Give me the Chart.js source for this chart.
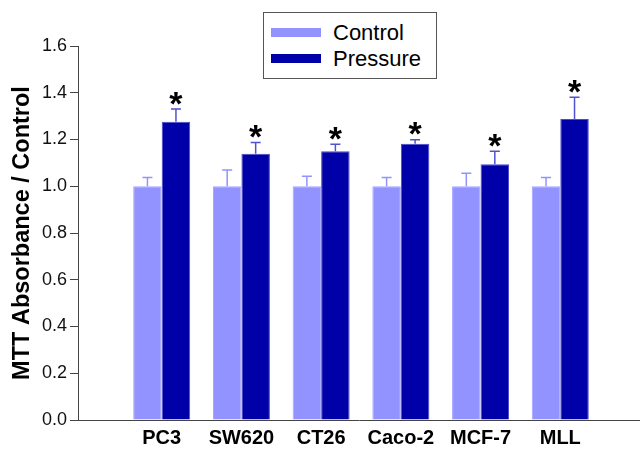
<!DOCTYPE html>
<html>
<head>
<meta charset="utf-8">
<script src="https://cdn.jsdelivr.net/npm/chart.js@4/dist/chart.umd.min.js"></script>
<style>
  html, body { margin: 0; padding: 0; background: #fff; }
  #wrap { position: relative; width: 640px; height: 453px; }
  #legend {
    position: absolute; left: 263px; top: 12px; width: 172px; height: 65px;
    border: 1px solid #555; background: #fff;
    font-family: Arial, "Liberation Sans", sans-serif; font-size: 22px; color: #000;
  }
  .legend-row { position: absolute; left: 0; height: 26px; line-height: 26px; }
  .legend-swatch { position: absolute; left: 7px; top: 8px; width: 50px; height: 9px; }
  .legend-label { position: absolute; left: 69px; top: 0; white-space: nowrap; }
</style>
</head>
<body>
<div id="wrap">
  <canvas id="chart" width="640" height="453"></canvas>
  <div id="legend"></div>
</div>
<script>
const cellLines = ['PC3', 'SW620', 'CT26', 'Caco-2', 'MCF-7', 'MLL'];
const controlValues = [1.0, 1.0, 1.0, 1.0, 1.0, 1.0];
const controlErrors = [0.037, 0.069, 0.043, 0.037, 0.056, 0.037];
const pressureValues = [1.276, 1.139, 1.150, 1.182, 1.094, 1.288];
const pressureErrors = [0.054, 0.048, 0.030, 0.017, 0.056, 0.093];
const significant = [true, true, true, true, true, true];
const yTicks = [0.0, 0.2, 0.4, 0.6, 0.8, 1.0, 1.2, 1.4, 1.6];

const CONTROL_COLOR = '#9393ff';
const PRESSURE_COLOR = '#0000a8';
const FONT = 'Arial, "Liberation Sans", sans-serif';

const series = [
  { label: 'Control', values: controlValues, errors: controlErrors, fill: CONTROL_COLOR, border: '#a3a3ff', errColor: '#9393ff' },
  { label: 'Pressure', values: pressureValues, errors: pressureErrors, fill: PRESSURE_COLOR, border: '#4a4acc', errColor: '#5252d0' },
];

// upward-only error bars with caps, plus significance stars over the pressure bars
const errorBarPlugin = {
  id: 'errorBars',
  afterDatasetsDraw(chart) {
    const { ctx, scales: { y } } = chart;
    ctx.save();
    series.forEach((s, di) => {
      const meta = chart.getDatasetMeta(di);
      meta.data.forEach((bar, i) => {
        const top = y.getPixelForValue(s.values[i] + s.errors[i]);
        const base = bar.y;
        ctx.strokeStyle = s.errColor;
        ctx.lineWidth = 1.5;
        ctx.beginPath();
        ctx.moveTo(bar.x, base);
        ctx.lineTo(bar.x, top);
        ctx.moveTo(bar.x - 5, top);
        ctx.lineTo(bar.x + 5, top);
        ctx.stroke();
        if (di === 1 && significant[i]) {
          ctx.fillStyle = '#000';
          ctx.font = 'bold 34px ' + FONT;
          ctx.textAlign = 'center';
          ctx.textBaseline = 'alphabetic';
          const m = ctx.measureText('*');
          const cy = top - 11;
          const mid = (m.actualBoundingBoxAscent - m.actualBoundingBoxDescent) / 2;
          ctx.fillText('*', bar.x, cy + mid);
        }
      });
    });
    ctx.restore();
  }
};

new Chart(document.getElementById('chart'), {
  type: 'bar',
  data: {
    datasets: series.map(s => ({
      label: s.label,
      data: s.values.map((v, i) => ({ x: i, y: v })),
      backgroundColor: s.fill,
      borderColor: s.border,
      borderWidth: 1,
      categoryPercentage: 0.715,
      barPercentage: 1.0,
    })),
  },
  options: {
    responsive: false,
    animation: false,
    layout: { padding: { top: 46, right: 0, left: 0, bottom: 0 } },
    plugins: { legend: { display: false }, tooltip: { enabled: false } },
    scales: {
      x: {
        type: 'linear',
        offset: false,
        min: -1.05,
        max: 6.0,
        afterBuildTicks: scale => { scale.ticks = cellLines.map((c, i) => ({ value: i })); },
        afterFit: scale => { scale.height = 33; },
        grid: { display: false, drawTicks: false, offset: false },
        border: { display: true, color: '#444', width: 1 },
        ticks: {
          autoSkip: false,
          maxRotation: 0,
          padding: 6,
          color: '#000',
          font: { family: FONT, size: 20, weight: 'bold' },
          callback: v => cellLines[v] ?? '',
        },
      },
      y: {
        min: 0,
        max: 1.6,
        afterBuildTicks: scale => { scale.ticks = yTicks.map(v => ({ value: v })); },
        afterFit: scale => { scale.width = 78; },
        grid: { drawOnChartArea: false, drawTicks: true, tickLength: 8, color: '#444' },
        border: { display: true, color: '#444', width: 1 },
        ticks: {
          padding: 3,
          color: '#111',
          font: { family: FONT, size: 18 },
          callback: v => Number(v).toFixed(1),
        },
        title: {
          display: true,
          text: 'MTT Absorbance / Control',
          color: '#000',
          font: { family: FONT, size: 23.5, weight: 'bold' },
          padding: { top: 8, bottom: 0 },
        },
      },
    },
  },
  plugins: [errorBarPlugin],
});

// boxed legend with line swatches
document.getElementById('legend').innerHTML = series.map((s, i) => `
  <div class="legend-row" style="top:${7 + i * 26}px">
    <span class="legend-swatch" style="background:${s.fill}"></span>
    <span class="legend-label">${s.label}</span>
  </div>`).join('');
</script>
</body>
</html>
